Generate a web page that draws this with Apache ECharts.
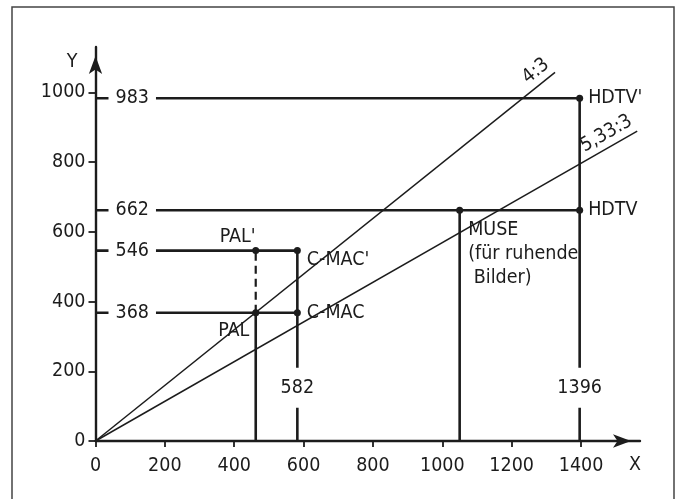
<!DOCTYPE html>
<html><head><meta charset="utf-8">
<script src="https://cdn.jsdelivr.net/npm/echarts@6/dist/echarts.min.js"></script>
<style>html,body{margin:0;padding:0;background:#fff}#c{width:680px;height:499px}</style>
</head><body><div id="c"></div>
<script>
// ---- data ----
const xTickValues = [0, 200, 400, 600, 800, 1000, 1200, 1400];
const yTickValues = [0, 200, 400, 600, 800, 1000];
const levelValues = [983, 662, 546, 368];        // horizontal lines (Y)
const levelEnds   = [1396, 1396, 582, 582];      // their right ends (X)
const verticalX   = [462, 582, 1050, 1396];      // vertical lines (X)
const verticalTop = [368, 546, 662, 983];        // their top ends (Y)
const dashedX = [462];
const dashedFrom = [368];
const dashedTo = [546];
const columnValues = [582, 1396];                // labelled verticals
const pointNames = ["HDTV'", "HDTV", "MUSE", "PAL'", "C-MAC'", "PAL", "C-MAC"];
const pointX = [1396, 1396, 1050, 462, 582, 462, 582];
const pointY = [983, 662, 662, 546, 546, 368, 368];
const ratioNames = ["4:3", "5,33:3"];
const ratioEndX = [1325, 1562];
const ratioEndY = [1057, 889];

// ---- styling ----
const INK = '#1c1c1c';
const FONT = 'DejaVu Sans Condensed';
const FS = 19.5;
const txt = {color: INK, fontFamily: FONT, fontSize: FS};
const COLUMN_LABEL_Y = 153;
const plain = v => String(v);

const pointLabel = {
  "HDTV'": {position: 'right', distance: 5},
  "HDTV": {position: 'right', distance: 5},
  "MUSE": {position: [12, 11], align: 'left', verticalAlign: 'top', lineHeight: 24,
           formatter: 'MUSE\n(für ruhende\n Bilder)'},
  "PAL'": {position: 'top', distance: 0, offset: [-18, 0]},
  "C-MAC'": {position: 'right', distance: 6, offset: [0, 9]},
  "PAL": {position: 'bottom', distance: 5, offset: [-22, 0]},
  "C-MAC": {position: 'right', distance: 6}
};

const series = [];
levelValues.forEach((y, i) => {
  series.push({type: 'line', data: [[0, y], [levelEnds[i], y]], showSymbol: false, silent: true,
    lineStyle: {color: INK, width: 2.6}, z: 2, animation: false});
});
verticalX.forEach((x, i) => {
  series.push({type: 'line', data: [[x, 0], [x, verticalTop[i]]], showSymbol: false, silent: true,
    lineStyle: {color: INK, width: 2.6}, z: 2, animation: false});
});
dashedX.forEach((x, i) => {
  series.push({type: 'line', data: [[x, dashedFrom[i]], [x, dashedTo[i]]], showSymbol: false, silent: true,
    lineStyle: {color: INK, width: 2.2, type: [8, 5]}, z: 2, animation: false});
});
series.push({
  type: 'line', data: [], silent: true, animation: false,
  markLine: {
    symbol: 'none', silent: true, animation: false,
    lineStyle: {color: INK, width: 1.5, type: 'solid', opacity: 1},
    label: Object.assign({show: true, position: 'insideEndTop', distance: [0, 3], formatter: '{b}'}, txt),
    data: ratioNames.map((n, i) => [{coord: [0, 0], name: n}, {coord: [ratioEndX[i], ratioEndY[i]]}])
  }
});
series.push({
  type: 'scatter', symbolSize: 0, silent: true, animation: false, z: 6,
  itemStyle: {opacity: 1},
  data: columnValues.map(v => [v, COLUMN_LABEL_Y]),
  label: Object.assign({show: true, position: 'inside', backgroundColor: '#fff', padding: [10, 3],
    formatter: p => String(p.value[0])}, txt)
});
series.push({
  type: 'scatter', symbol: 'circle', symbolSize: 7, silent: true, animation: false, z: 7,
  itemStyle: {color: INK, opacity: 1},
  data: pointNames.map((n, i) => ({
    name: n, value: [pointX[i], pointY[i]],
    label: Object.assign({show: true, formatter: '{b}'}, txt, pointLabel[n])
  }))
});

const chart = echarts.init(document.getElementById('c'), null, {renderer: 'canvas'});
chart.setOption({
  backgroundColor: '#fff',
  animation: false,
  grid: {left: 95.5, right: 40, top: 47, bottom: 58, containLabel: false, outerBoundsMode: 'none'},
  graphic: [{type: 'rect', silent: true, z: -1,
    shape: {x: 12, y: 7, width: 662, height: 530},
    style: {fill: 'none', stroke: '#444', lineWidth: 1.5}}],
  xAxis: {
    type: 'value', min: 0, max: 1570, interval: 200,
    name: 'X', nameLocation: 'end', nameGap: -5,
    nameTextStyle: Object.assign({align: 'center', verticalAlign: 'top', lineHeight: 48}, txt),
    axisLine: {show: true, onZero: true, symbol: ['none', 'arrow'], symbolSize: [10, 18], symbolOffset: [0, -9],
      lineStyle: {color: INK, width: 2.4}},
    axisTick: {show: true, length: 6, customValues: xTickValues, lineStyle: {color: INK, width: 1.8}},
    axisLabel: Object.assign({customValues: xTickValues, margin: 15, formatter: plain}, txt),
    splitLine: {show: false}
  },
  yAxis: [{
    type: 'value', min: 0, max: 1130, interval: 200,
    name: 'Y', nameLocation: 'end', nameGap: -15,
    nameTextStyle: Object.assign({align: 'right', verticalAlign: 'middle', padding: [0, 18, 0, 0]}, txt),
    axisLine: {show: true, onZero: true, symbol: ['none', 'arrow'], symbolSize: [10, 18], symbolOffset: [0, -9],
      lineStyle: {color: INK, width: 2.4}},
    axisTick: {show: true, length: 7, customValues: yTickValues, lineStyle: {color: INK, width: 1.8}},
    axisLabel: Object.assign({customValues: yTickValues, margin: 10, formatter: plain}, txt),
    splitLine: {show: false}
  }, {
    type: 'value', min: 0, max: 1130, position: 'left', z: 5,
    axisLine: {show: false}, axisTick: {show: false}, splitLine: {show: false},
    axisLabel: Object.assign({inside: true, customValues: levelValues, margin: 13, formatter: plain,
      backgroundColor: '#fff', padding: [2, 7]}, txt)
  }],
  series: series
});
</script></body></html>
